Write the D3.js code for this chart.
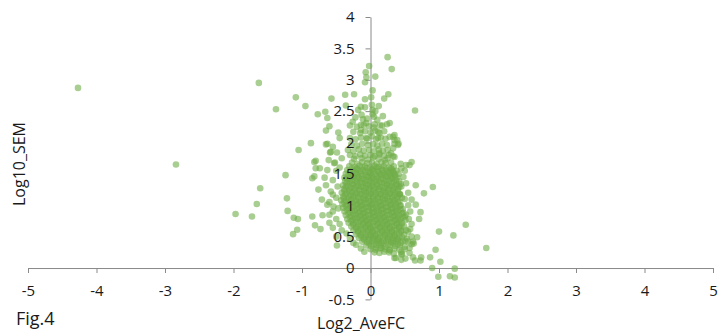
<!DOCTYPE html>
<html><head><meta charset="utf-8">
<script src="https://cdn.jsdelivr.net/npm/d3@7"></script>
<style>body{margin:0;background:#fff;} svg{display:block;font-family:"Open Sans",sans-serif;}</style>
</head><body><svg id="c" width="720" height="336"></svg>
<script>
const xTicks = [-5,-4,-3,-2,-1,0,1,2,3,4,5];
const yTicks = [-0.5,0,0.5,1,1.5,2,2.5,3,3.5,4];
const xLabel = "Log2_AveFC";
const yLabel = "Log10_SEM";
const figLabel = "Fig.4";

const outlierPoints = [
[-4.27,2.87],[-2.84,1.65],[-1.63,2.95],[-1.09,2.72],[-1.38,2.53],[-0.95,2.58],[-0.57,2.70],[-0.37,2.76],[-0.24,2.77],[-0.77,2.45],[-0.66,2.49],[-0.63,2.39],[-0.60,2.26],[-0.65,2.19],[-0.47,2.16],[-0.45,2.07],[-0.87,1.99],[-1.05,1.88],[-0.63,1.98],[-0.55,1.93],[-0.59,1.84],[-0.80,1.71],[-0.36,2.59],[-0.26,2.33],
[0.25,3.36],[0.31,3.17],[-0.02,3.22],[-0.07,3.12],[-0.06,3.04],[-0.08,2.96],[0.07,3.05],[0.03,2.83],[0.26,2.77],[0.20,2.70],[-0.08,2.69],[0.01,2.72],[0.65,2.51],[-0.14,2.57],[0.02,2.60],[0.03,2.52],[0.05,2.41],[-0.11,2.37],[-0.14,2.28],[-0.06,2.31],[0.06,2.29],[0.17,2.27],[0.24,2.29],[-0.14,2.20],[0.11,2.17],[0.33,2.09],[0.39,2.04],[0.35,1.98],[0.41,1.98],[0.11,2.07],[-0.06,2.07],[0.33,1.91],[0.30,1.83],[0.35,1.77],[0.44,1.66],[0.57,1.64],[0.13,1.83],[0.21,1.72],
[0.66,1.32],[0.91,1.29],[0.78,1.19],[0.60,1.09],[0.66,1.01],[0.73,0.89],[0.71,0.78],[1.39,0.69],[1.00,0.58],[1.21,0.52],[1.69,0.32],[0.95,0.29],[0.87,0.17],[1.02,0.10],[0.90,0.00],[1.23,-0.01],[0.99,-0.14],[1.16,-0.13],[1.23,-0.15],[0.62,0.17],[0.74,0.17],[0.73,0.12],[0.65,0.12],[0.37,0.16],[0.45,0.13],[0.46,0.22],[0.57,0.24],[0.68,0.49],[0.63,0.39],[0.57,0.32],[0.55,0.58],[0.52,0.85],[0.43,1.17],[0.44,1.34],[0.33,1.54],[0.45,1.59],[0.08,0.32],[0.16,0.32],[0.28,0.29],[0.62,0.42],
[-1.24,1.48],[-1.61,1.27],[-1.22,1.11],[-1.66,1.02],[-1.97,0.86],[-1.73,0.82],[-1.21,0.91],[-1.12,0.80],[-1.06,0.78],[-1.07,0.61],[-1.13,0.54],
[-0.81,0.68],[-0.73,0.62],[-0.49,0.36],[-0.85,1.43],[-0.67,1.44],[-0.76,1.25],[-0.71,1.09],[-0.85,0.82],[-0.60,0.85],[-0.63,1.01],[-0.55,0.64],[-0.80,1.59],[-0.49,1.84],[-0.61,1.72],[-0.82,1.46],[-0.74,1.59],[-0.70,0.84],[-0.55,1.17],[-0.54,0.98],[-0.50,0.50],[-0.21,0.37],[0.52,1.64],[0.60,1.69],[0.40,1.96],[0.35,2.04],[0.35,2.12],[0.28,2.31],
[-0.65,1.97],[-0.58,1.85],[-0.82,1.69],[-0.63,1.56],[-0.53,1.67],[-0.65,1.32]
];

const upperPoints = [
[-0.3,1.8],[-0.22,1.78],[-0.15,1.81],[-0.08,1.79],[0.0,1.8],[0.06,1.78],[0.13,1.81],[0.2,1.79],[0.27,1.8],[0.33,1.78],
[-0.33,1.88],[-0.25,1.86],[-0.17,1.89],[-0.1,1.87],[-0.02,1.88],[0.05,1.86],[0.12,1.89],[0.18,1.87],[0.25,1.88],
[-0.28,1.97],[-0.2,1.95],[-0.12,1.98],[-0.04,1.96],[0.04,1.97],[0.1,1.95],[0.17,1.98],[0.24,1.96],
[-0.3,2.07],[-0.22,2.05],[-0.14,2.08],[-0.05,2.06],[0.02,2.1],[0.08,2.05],[0.15,2.08],[0.22,2.06],[0.28,2.09],
[-0.25,2.17],[-0.15,2.15],[-0.08,2.18],[0.0,2.16],[0.07,2.19],[0.13,2.15],[0.2,2.18],
[-0.3,2.27],[-0.2,2.25],[-0.1,2.28],[-0.02,2.26],[0.05,2.24],[0.14,2.27],
[-0.22,2.4],[-0.13,2.44],[-0.05,2.38],[0.03,2.45],[0.1,2.36],[0.18,2.42],
[-0.18,2.52],[-0.08,2.56],[0.07,2.5],[0.12,2.58]
];

const corePoints = [
[-0.24,1.74],[-0.13,1.75],[-0.04,1.73],[0.04,1.76],[0.12,1.74],[0.25,1.75],
[-0.27,1.68],[-0.19,1.66],[-0.12,1.69],[-0.05,1.67],[0.02,1.68],[0.09,1.66],[0.16,1.69],[0.22,1.67],[0.3,1.68],
[-0.31,1.62],[-0.23,1.61],[-0.16,1.63],[-0.08,1.62],[-0.01,1.6],[0.06,1.63],[0.12,1.61],[0.19,1.62],[0.27,1.6],[0.34,1.62],
[-0.34,1.56],[-0.26,1.55],[-0.19,1.57],[-0.11,1.56],[-0.04,1.54],[0.03,1.57],[0.1,1.55],[0.17,1.56],[0.24,1.54],[0.31,1.57],[0.38,1.55],
[-0.36,1.5],[-0.29,1.49],[-0.21,1.51],[-0.14,1.5],[-0.07,1.48],[0.0,1.51],[0.07,1.49],[0.14,1.5],[0.21,1.48],[0.28,1.51],[0.35,1.49],[0.41,1.5],
[-0.38,1.44],[-0.31,1.43],[-0.24,1.45],[-0.17,1.44],[-0.1,1.42],[-0.03,1.45],[0.04,1.43],[0.11,1.44],[0.18,1.42],[0.25,1.45],[0.32,1.43],[0.39,1.44],
[-0.37,1.38],[-0.3,1.37],[-0.22,1.39],[-0.15,1.38],[-0.08,1.36],[-0.01,1.39],[0.06,1.37],[0.13,1.38],[0.2,1.36],[0.27,1.39],[0.34,1.37],[0.42,1.38],
[-0.4,1.32],[-0.33,1.31],[-0.25,1.33],[-0.18,1.32],[-0.11,1.3],[-0.04,1.33],[0.03,1.31],[0.1,1.32],[0.17,1.3],[0.24,1.33],[0.31,1.31],[0.38,1.32],[0.45,1.3],
[-0.39,1.26],[-0.31,1.25],[-0.24,1.27],[-0.16,1.26],[-0.09,1.24],[-0.02,1.27],[0.05,1.25],[0.12,1.26],[0.19,1.24],[0.26,1.27],[0.33,1.25],[0.4,1.26],
[-0.42,1.2],[-0.35,1.19],[-0.27,1.21],[-0.2,1.2],[-0.13,1.18],[-0.06,1.21],[0.01,1.19],[0.08,1.2],[0.15,1.18],[0.22,1.21],[0.29,1.19],[0.36,1.2],[0.43,1.18],
[-0.4,1.14],[-0.32,1.13],[-0.25,1.15],[-0.18,1.14],[-0.1,1.12],[-0.03,1.15],[0.04,1.13],[0.11,1.14],[0.18,1.12],[0.25,1.15],[0.32,1.13],[0.39,1.14],[0.46,1.12],
[-0.43,1.08],[-0.36,1.07],[-0.28,1.09],[-0.21,1.08],[-0.14,1.06],[-0.07,1.09],[0.0,1.07],[0.07,1.08],[0.14,1.06],[0.21,1.09],[0.28,1.07],[0.35,1.08],[0.42,1.06],
[-0.41,1.02],[-0.34,1.01],[-0.26,1.03],[-0.19,1.02],[-0.12,1.0],[-0.05,1.03],[0.02,1.01],[0.09,1.02],[0.16,1.0],[0.23,1.03],[0.3,1.01],[0.37,1.02],[0.44,1.0],
[-0.4,0.96],[-0.32,0.95],[-0.25,0.97],[-0.17,0.96],[-0.1,0.94],[-0.03,0.97],[0.04,0.95],[0.11,0.96],[0.18,0.94],[0.25,0.97],[0.32,0.95],[0.39,0.96],[0.47,0.94],
[-0.38,0.9],[-0.3,0.89],[-0.23,0.91],[-0.16,0.9],[-0.09,0.88],[-0.02,0.91],[0.05,0.89],[0.12,0.9],[0.19,0.88],[0.26,0.91],[0.33,0.89],[0.4,0.9],[0.48,0.88],
[-0.36,0.84],[-0.28,0.83],[-0.21,0.85],[-0.14,0.84],[-0.07,0.82],[0.0,0.85],[0.07,0.83],[0.14,0.84],[0.21,0.82],[0.28,0.85],[0.35,0.83],[0.42,0.84],[0.5,0.82],
[-0.34,0.78],[-0.26,0.77],[-0.19,0.79],[-0.12,0.78],[-0.05,0.76],[0.02,0.79],[0.09,0.77],[0.16,0.78],[0.23,0.76],[0.3,0.79],[0.37,0.77],[0.44,0.78],[0.51,0.76],
[-0.32,0.72],[-0.25,0.71],[-0.17,0.73],[-0.1,0.72],[-0.03,0.7],[0.04,0.73],[0.11,0.71],[0.18,0.72],[0.25,0.7],[0.32,0.73],[0.39,0.71],[0.46,0.72],
[-0.28,0.66],[-0.21,0.65],[-0.14,0.67],[-0.07,0.66],[0.0,0.64],[0.07,0.67],[0.14,0.65],[0.21,0.66],[0.28,0.64],[0.35,0.67],[0.42,0.65],[0.49,0.66],
[-0.25,0.6],[-0.18,0.59],[-0.11,0.61],[-0.04,0.6],[0.03,0.58],[0.1,0.61],[0.17,0.59],[0.24,0.6],[0.31,0.58],[0.38,0.61],[0.45,0.59],[0.52,0.6],
[-0.21,0.54],[-0.14,0.53],[-0.07,0.55],[0.0,0.54],[0.07,0.52],[0.14,0.55],[0.21,0.53],[0.28,0.54],[0.35,0.52],[0.42,0.55],[0.49,0.53],
[-0.17,0.48],[-0.1,0.47],[-0.03,0.49],[0.04,0.48],[0.11,0.46],[0.18,0.49],[0.25,0.47],[0.32,0.48],[0.39,0.46],[0.46,0.49],[0.53,0.47],
[-0.12,0.42],[-0.05,0.41],[0.02,0.43],[0.09,0.42],[0.16,0.4],[0.23,0.43],[0.3,0.41],[0.37,0.42],[0.44,0.4],[0.51,0.43],
[-0.06,0.36],[0.01,0.35],[0.08,0.37],[0.15,0.36],[0.22,0.34],[0.29,0.37],[0.36,0.35],[0.43,0.36],[0.5,0.34],
[0.0,0.3],[0.07,0.29],[0.14,0.31],[0.21,0.3],[0.28,0.28],[0.35,0.31],[0.42,0.29],
[0.06,0.25],[0.13,0.24],[0.2,0.26],[0.27,0.25],[0.34,0.23],[0.45,0.26]
];

const denseCorePoints = [
[-0.27,1.59],[-0.2,1.58],[-0.12,1.6],[-0.05,1.59],[0.03,1.58],[0.09,1.6],[0.16,1.59],[0.23,1.57],[0.3,1.59],
[-0.3,1.53],[-0.22,1.52],[-0.15,1.54],[-0.08,1.53],[-0.01,1.52],[0.05,1.54],[0.12,1.53],[0.19,1.51],[0.26,1.53],[0.33,1.52],
[-0.33,1.47],[-0.26,1.46],[-0.19,1.48],[-0.12,1.47],[-0.05,1.45],[0.02,1.47],[0.09,1.46],[0.16,1.48],[0.23,1.46],[0.3,1.47],[0.36,1.46],
[-0.34,1.41],[-0.27,1.4],[-0.2,1.42],[-0.13,1.41],[-0.06,1.39],[0.01,1.42],[0.08,1.4],[0.15,1.41],[0.22,1.39],[0.29,1.42],[0.37,1.4],
[-0.35,1.35],[-0.27,1.34],[-0.2,1.36],[-0.13,1.35],[-0.06,1.33],[0.02,1.36],[0.09,1.34],[0.16,1.35],[0.24,1.33],[0.31,1.36],[0.38,1.34],
[-0.36,1.29],[-0.29,1.28],[-0.21,1.3],[-0.14,1.29],[-0.07,1.27],[0.0,1.3],[0.07,1.28],[0.14,1.29],[0.21,1.27],[0.28,1.3],[0.35,1.28],[0.42,1.29],
[-0.38,1.23],[-0.31,1.22],[-0.23,1.24],[-0.16,1.23],[-0.09,1.21],[-0.02,1.24],[0.05,1.22],[0.12,1.23],[0.19,1.21],[0.26,1.24],[0.33,1.22],[0.4,1.23],
[-0.37,1.17],[-0.29,1.16],[-0.22,1.18],[-0.15,1.17],[-0.08,1.15],[0.0,1.18],[0.07,1.16],[0.14,1.17],[0.21,1.15],[0.28,1.18],[0.35,1.16],[0.42,1.17],
[-0.39,1.11],[-0.32,1.1],[-0.25,1.12],[-0.17,1.11],[-0.1,1.09],[-0.03,1.12],[0.04,1.1],[0.11,1.11],[0.18,1.09],[0.25,1.12],[0.32,1.1],[0.39,1.11],
[-0.38,1.05],[-0.3,1.04],[-0.23,1.06],[-0.16,1.05],[-0.09,1.03],[-0.02,1.06],[0.05,1.04],[0.12,1.05],[0.19,1.03],[0.26,1.06],[0.33,1.04],[0.4,1.05],
[-0.36,0.99],[-0.29,0.98],[-0.21,1.0],[-0.14,0.99],[-0.07,0.97],[0.0,1.0],[0.08,0.98],[0.15,0.99],[0.22,0.97],[0.29,1.0],[0.36,0.98],[0.43,0.99],
[-0.34,0.93],[-0.27,0.92],[-0.2,0.94],[-0.12,0.93],[-0.05,0.91],[0.02,0.94],[0.09,0.92],[0.16,0.93],[0.23,0.91],[0.3,0.94],[0.37,0.92],[0.44,0.93],
[-0.32,0.87],[-0.25,0.86],[-0.18,0.88],[-0.11,0.87],[-0.04,0.85],[0.03,0.88],[0.1,0.86],[0.17,0.87],[0.24,0.85],[0.31,0.88],[0.38,0.86],[0.46,0.87],
[-0.3,0.81],[-0.23,0.8],[-0.16,0.82],[-0.09,0.81],[-0.02,0.79],[0.05,0.82],[0.12,0.8],[0.19,0.81],[0.26,0.79],[0.33,0.82],[0.4,0.8],[0.47,0.81],
[-0.28,0.75],[-0.21,0.74],[-0.14,0.76],[-0.07,0.75],[0.0,0.73],[0.07,0.76],[0.14,0.74],[0.21,0.75],[0.28,0.73],[0.35,0.76],[0.42,0.74],
[-0.25,0.69],[-0.18,0.68],[-0.11,0.7],[-0.04,0.69],[0.03,0.67],[0.1,0.7],[0.17,0.68],[0.24,0.69],[0.31,0.67],[0.38,0.7],[0.45,0.68],
[-0.21,0.63],[-0.14,0.62],[-0.07,0.64],[0.0,0.63],[0.07,0.61],[0.14,0.64],[0.21,0.62],[0.28,0.63],[0.35,0.61],[0.42,0.64],
[-0.18,0.57],[-0.11,0.56],[-0.04,0.58],[0.03,0.57],[0.1,0.55],[0.17,0.58],[0.24,0.56],[0.31,0.57],[0.38,0.55],[0.45,0.58],
[-0.14,0.51],[-0.07,0.5],[0.0,0.52],[0.07,0.51],[0.14,0.49],[0.21,0.52],[0.28,0.5],[0.35,0.51],[0.42,0.49],
[-0.09,0.45],[-0.02,0.44],[0.05,0.46],[0.12,0.45],[0.19,0.43],[0.26,0.46],[0.33,0.44],[0.4,0.45],[0.47,0.43],
[-0.02,0.39],[0.05,0.38],[0.12,0.4],[0.19,0.39],[0.26,0.37],[0.33,0.4],[0.4,0.38]
];

const fringePoints = [
[-0.5,1.55],[-0.55,1.4],[-0.48,1.3],[-0.58,1.22],[-0.5,1.12],[-0.6,1.05],[-0.47,0.95],[-0.55,0.9],[-0.5,0.78],[-0.45,0.7],[-0.6,0.72],[-0.42,0.6],[-0.35,0.55],[-0.3,0.48],[-0.25,0.4],[-0.45,1.6],[-0.52,1.68],[-0.42,1.75],[-0.14,0.31],[-0.09,0.26],
[0.5,1.55],[0.48,1.45],[0.52,1.35],[0.55,1.2],[0.5,1.1],[0.55,1.0],[0.58,0.9],[0.56,0.78],[0.6,0.7],[0.58,0.62],[0.6,0.5],[0.55,0.42],[0.6,0.38],[0.5,0.3],[0.45,0.22],[0.35,0.16],[0.51,0.15]
];

const allPoints = outlierPoints.concat(upperPoints, corePoints, denseCorePoints, fringePoints);

const svg = d3.select("#c");
svg.append("rect").attr("width",720).attr("height",336).attr("fill","#fff");

const x = d3.scaleLinear().domain([-5,5]).range([28,713]);
const y = d3.scaleLinear().domain([-0.5,4]).range([299.4,17]);
const axisColor = "#8a8a8a";

// axis lines and ticks (under points)
const gx = svg.append("g").attr("transform",`translate(0,${y(0)})`)
  .call(d3.axisBottom(x).tickValues(xTicks).tickSize(5).tickSizeOuter(0).tickFormat(""));
const gy = svg.append("g").attr("transform",`translate(${x(0)},0)`)
  .call(d3.axisLeft(y).tickValues(yTicks).tickSize(5).tickSizeOuter(0).tickFormat(""));
[gx,gy].forEach(g=>{ g.selectAll("path,line").attr("stroke",axisColor).attr("stroke-width",1); });

// points
svg.append("g").selectAll("circle").data(allPoints).join("circle")
  .attr("cx",d=>x(d[0])).attr("cy",d=>y(d[1])).attr("r",3.3)
  .attr("fill","#70ad47").attr("fill-opacity",0.6);

// tick labels (above points)
const lx = svg.append("g").attr("transform",`translate(0,${y(0)})`)
  .call(d3.axisBottom(x).tickValues(xTicks).tickSize(0).tickPadding(17).tickFormat(d=>String(d)));
const ly = svg.append("g").attr("transform",`translate(${x(0)},0)`)
  .call(d3.axisLeft(y).tickValues(yTicks).tickSize(0).tickPadding(16).tickFormat(d=>String(d)));
[lx,ly].forEach(g=>{
  g.select(".domain").remove();
  g.selectAll("text").attr("fill","#1a1a1a").style("font-family","'Open Sans',sans-serif").style("font-size","15px");
});

svg.append("text").attr("x",361).attr("y",329).attr("text-anchor","middle")
  .attr("fill","#1a1a1a").style("font-size","16px").text(xLabel);
svg.append("text").attr("transform","translate(25,164) rotate(-90)").attr("text-anchor","middle")
  .attr("fill","#1a1a1a").style("font-size","16px").text(yLabel);
svg.append("text").attr("x",16).attr("y",325)
  .attr("fill","#1a1a1a").style("font-size","18px").text(figLabel);
</script></body></html>
